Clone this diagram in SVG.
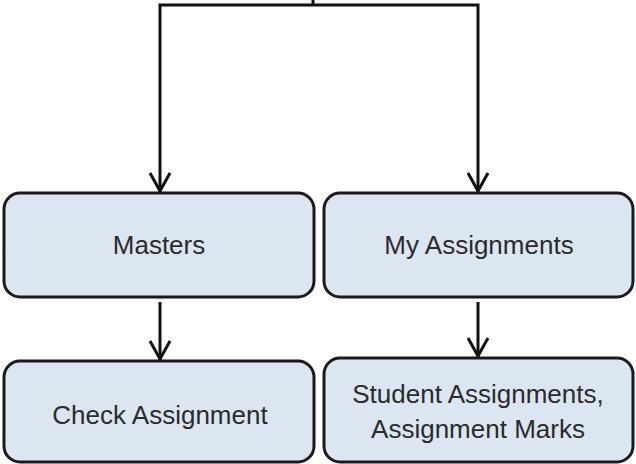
<svg xmlns="http://www.w3.org/2000/svg" width="636" height="464" viewBox="0 0 636 464">
<style>
.box{fill:#dce6f2;stroke:#1a1a1a;stroke-width:3}
.lbl{font-family:"Liberation Sans",Arial,sans-serif;font-size:26px;fill:#2b2b2b;text-anchor:middle}
.conn{fill:none;stroke:#111;stroke-width:3}
</style>
<defs>
<marker id="arr" markerUnits="userSpaceOnUse" markerWidth="26" markerHeight="26" viewBox="-24 -13 26 26" refX="0" refY="0" orient="auto-start-reverse">
<path d="M-19,-10 L-1,0 L-19,10" fill="none" stroke="#111" stroke-width="3"/>
</marker>
</defs>
<rect width="636" height="464" fill="#fff"/>
<g id="connectors">
<path class="conn" d="M313,0 V5"/>
<path class="conn" d="M160,192 V5 H478 V192" marker-start="url(#arr)" marker-end="url(#arr)"/>
<path class="conn" d="M160,302 V360" marker-end="url(#arr)"/>
<path class="conn" d="M478,302 V357" marker-end="url(#arr)"/>
</g>
<g id="masters">
<rect class="box" x="4" y="193" width="310" height="104" rx="16"/>
<text class="lbl" x="159" y="254">Masters</text>
</g>
<g id="my-assignments">
<rect class="box" x="324" y="193" width="309" height="104" rx="16"/>
<text class="lbl" x="479" y="254">My Assignments</text>
</g>
<g id="check-assignment">
<rect class="box" x="4" y="361" width="310" height="101" rx="16"/>
<text class="lbl" x="160" y="424">Check Assignment</text>
</g>
<g id="student-assignments">
<rect class="box" x="324" y="358" width="309" height="104" rx="16"/>
<text class="lbl" x="478" y="403">Student Assignments,</text>
<text class="lbl" x="478" y="438">Assignment Marks</text>
</g>
</svg>
